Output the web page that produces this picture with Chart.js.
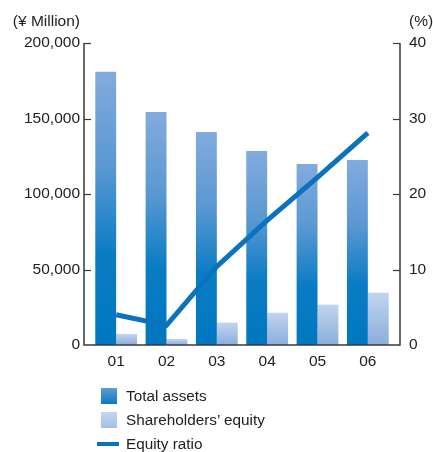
<!DOCTYPE html>
<html>
<head>
<meta charset="utf-8">
<script src="https://cdn.jsdelivr.net/npm/chart.js@4/dist/chart.umd.min.js"></script>
<style>
body{margin:0;background:#fff;font-family:"Liberation Sans",Arial,sans-serif;}
#wrap{position:relative;width:433px;height:452px;overflow:hidden;}
#legend{position:absolute;left:96px;top:384px;font-size:15.3px;color:#222;}
.item{height:24px;display:flex;align-items:center;}
.sw{width:16px;height:16px;margin-left:5px;margin-right:9px;}
.ln{width:22px;height:4px;margin-left:1px;margin-right:7px;}
</style>
</head>
<body>
<div id="wrap">
<canvas id="chart" width="433" height="452"></canvas>
<div id="legend"></div>
</div>
<script>
const years = ["01","02","03","04","05","06"];
const totalAssets = [181000,154300,141000,128500,119900,122500];
const equity = [7300,4000,14800,21400,26700,34600];
const equityRatio = [4.0,2.6,10.4,16.5,22.2,28.1];
const yenTicks = {max:200000, step:50000};
const pctTicks = {max:40, step:10};

const axisColor = "#3a3a3a";
const labelFont = {family:"'Liberation Sans', Arial, sans-serif", size:15.5};

// vertical gradient across one bar, from its top down to the zero line
function barGradient(c, stops){
const chart = c.chart;
const area = chart.chartArea;
if(!area || c.raw === undefined) return stops[stops.length-1][1];
const y = chart.scales.y;
const top = y.getPixelForValue(c.raw);
const bottom = y.getPixelForValue(0);
const g = chart.ctx.createLinearGradient(0,top,0,bottom);
stops.forEach(s => g.addColorStop(s[0],s[1]));
return g;
}
const assetStops = [[0,"#82abdd"],[0.35,"#5a98d2"],[0.67,"#0a7cc4"],[1,"#0077c0"]];
const equityStops = [[0,"#c2d4ee"],[1,"#8aaedc"]];

// axis frame with inward ticks, sitting a few px outside the plot area
const frame = {
id:"frame",
afterDraw(chart){
const {ctx, chartArea, scales} = chart;
const gap = 7;
const xl = chartArea.left - gap, xr = chartArea.right + gap;
ctx.save();
ctx.strokeStyle = axisColor;
ctx.lineWidth = 1.5;
ctx.beginPath();
ctx.moveTo(xl, scales.y.getPixelForValue(yenTicks.max));
ctx.lineTo(xl, chartArea.bottom);
ctx.lineTo(xr, chartArea.bottom);
ctx.lineTo(xr, scales.y1.getPixelForValue(pctTicks.max));
ctx.stroke();
ctx.lineWidth = 1.2;
scales.y.ticks.forEach(t => {
if(t.value === 0) return;
const py = Math.round(scales.y.getPixelForValue(t.value)) + 0.5;
ctx.beginPath(); ctx.moveTo(xl, py); ctx.lineTo(xl + gap, py); ctx.stroke();
});
scales.y1.ticks.forEach(t => {
if(t.value === 0) return;
const py = Math.round(scales.y1.getPixelForValue(t.value)) + 0.5;
ctx.beginPath(); ctx.moveTo(xr, py); ctx.lineTo(xr - gap, py); ctx.stroke();
});
// unit captions above each axis
ctx.fillStyle = "#222";
ctx.font = "15.5px 'Liberation Sans', Arial, sans-serif";
ctx.textBaseline = "middle";
ctx.textAlign = "right";
ctx.fillText("(\u00a5 Million)", chartArea.left - 11, chartArea.top - 21);
ctx.textAlign = "left";
ctx.fillText("(%)", chartArea.right + 16, chartArea.top - 21);
ctx.restore();
}
};

const chart = new Chart(document.getElementById("chart"),{
data:{
labels:years,
datasets:[
{
type:"line",
label:"Equity ratio",
data:equityRatio,
yAxisID:"y1",
borderColor:"#0b72bd",
backgroundColor:"#0b72bd",
borderWidth:5,
pointRadius:0,
tension:0,
order:0
},
{
type:"bar",
label:"Total assets",
data:totalAssets,
yAxisID:"y",
backgroundColor:c => barGradient(c, assetStops),
order:1
},
{
type:"bar",
label:"Shareholders\u2019 equity",
data:equity,
yAxisID:"y",
backgroundColor:c => barGradient(c, equityStops),
order:1
}
]
},
options:{
responsive:false,
animation:false,
layout:{padding:{top:43,left:0,right:0,bottom:0}},
datasets:{bar:{categoryPercentage:0.83,barPercentage:1.0}},
plugins:{legend:{display:false},tooltip:{enabled:false}},
scales:{
x:{
grid:{display:false,drawTicks:false},
border:{display:false},
ticks:{color:"#222",font:labelFont,padding:7},
afterFit(s){ s.height = 107; }
},
y:{
position:"left",
min:0,max:yenTicks.max,
grid:{display:false,drawTicks:false},
border:{display:false},
ticks:{stepSize:yenTicks.step,color:"#222",font:labelFont,padding:11},
afterFit(s){ s.width = 91; }
},
y1:{
position:"right",
min:0,max:pctTicks.max,
grid:{display:false,drawTicks:false},
border:{display:false},
ticks:{stepSize:pctTicks.step,color:"#222",font:labelFont,padding:16},
afterFit(s){ s.width = 40; }
}
}
},
plugins:[frame]
});

// legend list under the plot
const legend = document.getElementById("legend");
const swatches = {
"Total assets":'<div class="sw" style="background:linear-gradient(#5f9bd4,#0a79c2)"></div>',
"Shareholders\u2019 equity":'<div class="sw" style="background:linear-gradient(#c6d7ef,#a3bfe4)"></div>',
"Equity ratio":'<div class="ln" style="background:#0b72bd"></div>'
};
["Total assets","Shareholders\u2019 equity","Equity ratio"].forEach(name => {
const ds = chart.data.datasets.find(d => d.label === name);
legend.innerHTML += `<div class="item">${swatches[name]}<span>${ds.label}</span></div>`;
});
</script>
</body>
</html>
